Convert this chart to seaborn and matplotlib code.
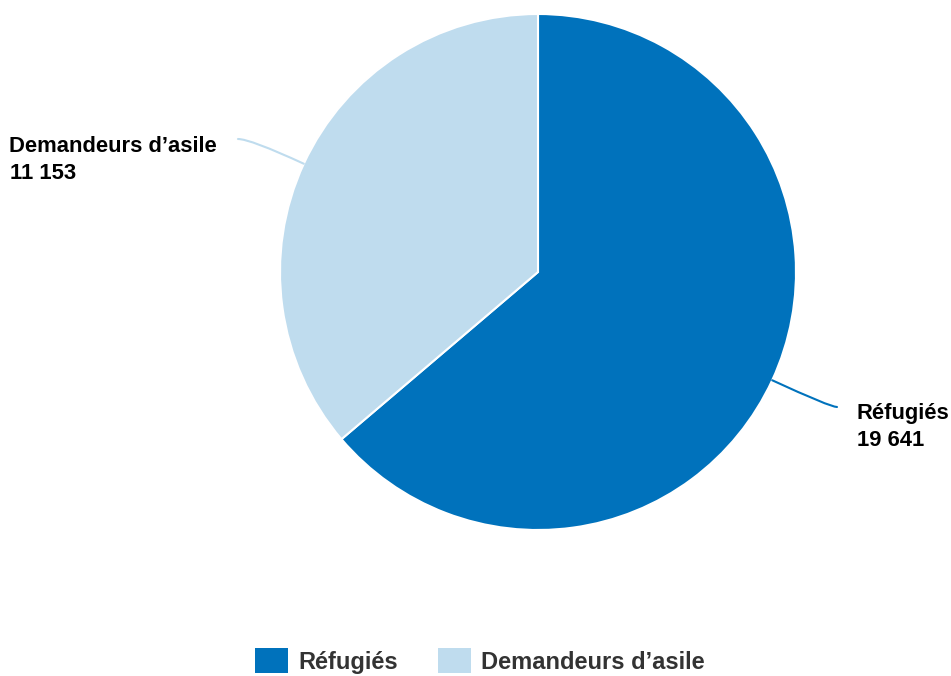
import numpy as np
import matplotlib
matplotlib.use('Agg')
import matplotlib.pyplot as plt
from matplotlib.patches import Patch
import seaborn as sns

# data
categories = ['Réfugiés', 'Demandeurs d’asile']
values = [19641, 11153]
value_labels = ['19 641', '11 153']
colors = ['#0072bc', '#bfdcee']

sns.set_style('white')
plt.rcParams['font.family'] = ['Liberation Sans', 'DejaVu Sans']

W, H = 951, 676
fig = plt.figure(figsize=(W / 100, H / 100), dpi=100)
ax = fig.add_axes([0, 0, 1, 1])

cx, cy, r = 538, H - 272, 258
wedges, _ = ax.pie(values, colors=colors, startangle=90, counterclock=False,
                   center=(cx, cy), radius=r, frame=True,
                   wedgeprops=dict(edgecolor='white', linewidth=1.5))
ax.set_xlim(0, W)
ax.set_ylim(0, H)
ax.set_aspect('equal')
ax.axis('off')

# leader lines + labels (line end point, text x, align, baseline y)
label_pos = [((837, H - 407), 857, 'left', H - 419),
             ((238, H - 139), 217, 'right', H - 152)]
for w, name, val, col, (end, tx, ha, ty) in zip(wedges, categories, value_labels, colors, label_pos):
    mid = np.deg2rad((w.theta1 + w.theta2) / 2)
    edge = (cx + r * np.cos(mid), cy + r * np.sin(mid))
    ax.annotate('', xy=edge, xytext=end,
                arrowprops=dict(arrowstyle='-', color=col, lw=1.5,
                                shrinkA=0, shrinkB=0,
                                connectionstyle=f'angle3,angleA=0,angleB={np.rad2deg(mid):.1f}'))
    ax.text(tx, ty, name, ha=ha, va='baseline', fontsize=15.8, fontweight='bold', color='black')
    ax.text(tx if ha == 'left' else 10, ty - 27, val, ha='left', va='baseline',
            fontsize=15.8, fontweight='bold', color='black')

handles = [Patch(facecolor=c, edgecolor='none') for c in colors]
leg = fig.legend(handles, categories, loc='center', bbox_to_anchor=(480 / W, 1 - 661 / H),
                 ncol=2, frameon=False, handlelength=1.4, handleheight=1.2,
                 handletextpad=0.42, columnspacing=1.7,
                 prop=dict(weight='bold', size=17))
for t in leg.get_texts():
    t.set_color('#333333')

fig.savefig('out.png', dpi=100)
